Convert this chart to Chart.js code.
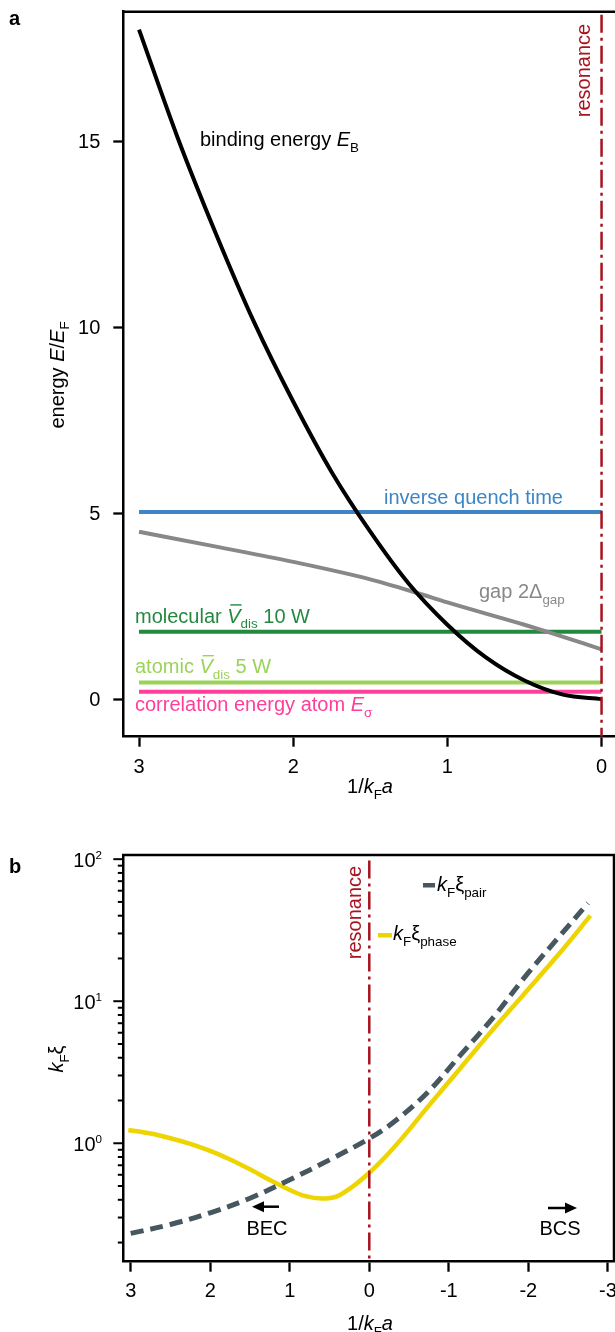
<!DOCTYPE html>
<html>
<head>
<meta charset="utf-8">
<script src="https://cdn.jsdelivr.net/npm/chart.js"></script>
<style>
  html, body { margin: 0; padding: 0; background: #fff; overflow: hidden; }
  #wrap { position: relative; width: 615px; height: 1332px; overflow: hidden; }
  canvas { position: absolute; left: 0; }
  #chartA { top: 0; }
  #chartB { top: 800px; }
</style>
</head>
<body>
<div id="wrap">
  <canvas id="chartA" width="615" height="800" style="width:615px;height:800px"></canvas>
  <canvas id="chartB" width="615" height="540" style="width:615px;height:540px"></canvas>
</div>
<script>
// ---- panel a: energies vs 1/kFa ----
const energyX = [3, 2.75, 2.5, 2.25, 2, 1.75, 1.5, 1.25, 1, 0.75, 0.5, 0.25, 0];
const bindingE = [18.0, 15.1, 12.5, 10.1, 8.0, 6.1, 4.5, 3.1, 2.0, 1.12, 0.5, 0.12, 0];
const gapX = [3, 2.5, 2, 1.5, 1.2, 1, 0.5, 0.35, 0];
const gapE = [4.5, 4.1, 3.69, 3.22, 2.86, 2.6, 2.0, 1.81, 1.34];
const levelNames = ['inverse quench time', 'molecular Vdis 10 W', 'atomic Vdis 5 W', 'correlation energy atom Eσ'];
const levelValues = [5.03, 1.81, 0.45, 0.2];
const levelSpan = [3, 0];
const energyTicks = [0, 5, 10, 15];
const detuningTicksA = [3, 2, 1, 0];

// ---- panel b: coherence lengths ----
const pairX = [3, 2.5, 2, 1.5, 1, 0.5, 0, -0.3, -0.72, -1.14, -1.56, -1.98, -2.4, -2.75];
const pairXi = [0.232, 0.268, 0.324, 0.41, 0.554, 0.764, 1.08, 1.40, 2.24, 4.14, 7.7, 15.4, 29, 49];
const phaseX = [3.03, 2.75, 2.5, 2.25, 2, 1.75, 1.5, 1.25, 1, 0.8, 0.6, 0.4, 0.2, 0, -0.2, -0.45, -0.72, -1.14, -1.56, -1.98, -2.4, -2.78];
const phaseXi = [1.24, 1.17, 1.085, 0.99, 0.883, 0.769, 0.655, 0.551, 0.469, 0.424, 0.408, 0.425, 0.5, 0.62, 0.8, 1.15, 1.76, 3.35, 6.37, 11.8, 22, 40];
const xiTicks = [0.2, 0.3, 0.4, 0.5, 0.6, 0.7, 0.8, 0.9, 1, 2, 3, 4, 5, 6, 7, 8, 9, 10, 20, 30, 40, 50, 60, 70, 80, 90, 100];
const xiMajor = [1, 10, 100];
const xiMajorExp = ['0', '1', '2'];
const detuningTicksB = [3, 2, 1, 0, -1, -2, -3];

const FONT = '"Liberation Sans", Arial, sans-serif';
const SIZE = 20;
const RED = '#a8131f';
const levelColors = ['#3d85c6', '#24893f', '#9bd35a', '#ff3d9a'];

const pts = (xs, ys) => xs.map((x, i) => ({ x, y: ys[i] }));

function drawRich(ctx, parts, x, y, color, align, size) {
  size = size || SIZE;
  const fontOf = p => (p.b ? 'bold ' : '') + (p.i ? 'italic ' : '') +
    (p.sub ? size * 0.67 : p.sup ? size * 0.58 : size) + 'px ' + FONT;
  let total = 0;
  parts.forEach(p => { ctx.font = fontOf(p); p.w = ctx.measureText(p.t).width; total += p.w; });
  let cx = align === 'center' ? x - total / 2 : align === 'right' ? x - total : x;
  ctx.fillStyle = color;
  ctx.strokeStyle = color;
  ctx.textAlign = 'left';
  ctx.textBaseline = 'alphabetic';
  parts.forEach(p => {
    ctx.font = fontOf(p);
    const dy = p.sub ? size * 0.28 : p.sup ? -size * 0.42 : 0;
    ctx.fillText(p.t, cx, y + dy);
    if (p.bar) {
      ctx.lineWidth = 1.4;
      ctx.beginPath();
      ctx.moveTo(cx + 3, y - size * 0.88);
      ctx.lineTo(cx + p.w + 1, y - size * 0.88);
      ctx.stroke();
    }
    cx += p.w;
  });
}

function drawRotated(ctx, parts, x, y, color) {
  ctx.save();
  ctx.translate(x, y);
  ctx.rotate(-Math.PI / 2);
  drawRich(ctx, parts, 0, 0, color, 'center');
  ctx.restore();
}

function hLine(ctx, x1, x2, y, w) {
  ctx.lineWidth = w; ctx.beginPath(); ctx.moveTo(x1, y); ctx.lineTo(x2, y); ctx.stroke();
}
function vLine(ctx, x, y1, y2, w) {
  ctx.lineWidth = w; ctx.beginPath(); ctx.moveTo(x, y1); ctx.lineTo(x, y2); ctx.stroke();
}

function arrow(ctx, x1, x2, y) {
  // x1 tail, x2 head
  const dir = Math.sign(x2 - x1);
  ctx.strokeStyle = '#000'; ctx.fillStyle = '#000';
  hLine(ctx, x1, x2 - dir * 8, y, 2.5);
  ctx.beginPath();
  ctx.moveTo(x2, y);
  ctx.lineTo(x2 - dir * 12, y - 5.5);
  ctx.lineTo(x2 - dir * 12, y + 5.5);
  ctx.closePath();
  ctx.fill();
}

const levelParts = [
  [{ t: 'inverse quench time' }],
  [{ t: 'molecular ' }, { t: 'V', i: 1, bar: 1 }, { t: 'dis', sub: 1 }, { t: ' 10 W' }],
  [{ t: 'atomic ' }, { t: 'V', i: 1, bar: 1 }, { t: 'dis', sub: 1 }, { t: ' 5 W' }],
  [{ t: 'correlation energy atom ' }, { t: 'E', i: 1 }, { t: 'σ', sub: 1 }]
];
const levelLabelPos = [[384, 504], [135, 622.5], [135, 673.3], [135, 711]];
const invKaParts = [{ t: '1/' }, { t: 'k', i: 1 }, { t: 'F', sub: 1 }, { t: 'a', i: 1 }];

const decorA = {
  id: 'decorA',
  afterDraw(chart) {
    const ctx = chart.ctx, a = chart.chartArea, xs = chart.scales.x, ys = chart.scales.y;
    ctx.save();
    ctx.strokeStyle = '#000';
    hLine(ctx, a.left - 1.2, a.right, a.top, 2.5);
    // tick labels
    ctx.fillStyle = '#000'; ctx.font = SIZE + 'px ' + FONT;
    ctx.textAlign = 'right'; ctx.textBaseline = 'middle';
    energyTicks.forEach(v => ctx.fillText(String(v), a.left - 23, ys.getPixelForValue(v) + 1));
    ctx.textAlign = 'center';
    detuningTicksA.forEach(v => ctx.fillText(String(v), xs.getPixelForValue(v), a.bottom + 31));
    // labels
    drawRich(ctx, [{ t: 'binding energy ' }, { t: 'E', i: 1 }, { t: 'B', sub: 1 }], 200, 146, '#000', 'left');
    drawRich(ctx, [{ t: 'gap 2Δ' }, { t: 'gap', sub: 1 }], 479, 598, '#888888', 'left');
    levelParts.forEach((p, i) => drawRich(ctx, p, levelLabelPos[i][0], levelLabelPos[i][1], levelColors[i], 'left'));
    drawRotated(ctx, [{ t: 'resonance' }], 590, 70.5, RED);
    drawRotated(ctx, [{ t: 'energy ' }, { t: 'E', i: 1 }, { t: '/' }, { t: 'E', i: 1 }, { t: 'F', sub: 1 }], 63.5, 375, '#000');
    drawRich(ctx, invKaParts, 370, 793, '#000', 'center');
    drawRich(ctx, [{ t: 'a', b: 1 }], 9, 25, '#000', 'left', 20);
    ctx.restore();
  }
};

const decorB = {
  id: 'decorB',
  afterDraw(chart) {
    const ctx = chart.ctx, a = chart.chartArea, xs = chart.scales.x, ys = chart.scales.y;
    ctx.save();
    ctx.strokeStyle = '#000';
    hLine(ctx, a.left - 1.2, a.right + 1.2, a.top, 2.5);
    vLine(ctx, a.right, a.top, a.bottom, 2.5);
    // log ticks, major longer than minor
    xiTicks.forEach(v => {
      const py = ys.getPixelForValue(v);
      hLine(ctx, a.left - (xiMajor.includes(v) ? 10 : 5.5), a.left, py, 2);
    });
    xiMajor.forEach((v, i) => drawRich(ctx, [{ t: '10' }, { t: xiMajorExp[i], sup: 1 }], 102, ys.getPixelForValue(v) + 8, '#000', 'right'));
    ctx.fillStyle = '#000'; ctx.font = SIZE + 'px ' + FONT;
    ctx.textAlign = 'center'; ctx.textBaseline = 'middle';
    detuningTicksB.forEach(v => ctx.fillText(String(v), xs.getPixelForValue(v), a.bottom + 30));
    drawRich(ctx, invKaParts, 370, 530, '#000', 'center');
    drawRotated(ctx, [{ t: 'k', i: 1 }, { t: 'F', sub: 1 }, { t: 'ξ' }], 63, 259, '#000');
    drawRotated(ctx, [{ t: 'resonance' }], 361, 112.5, RED);
    // legend
    ctx.fillStyle = '#465760'; ctx.fillRect(423, 83, 12, 4.5);
    drawRich(ctx, [{ t: 'k', i: 1 }, { t: 'F', sub: 1 }, { t: 'ξ' }, { t: 'pair', sub: 1 }], 437, 91, '#000', 'left');
    ctx.fillStyle = '#eed400'; ctx.fillRect(378, 133, 14, 4.5);
    drawRich(ctx, [{ t: 'k', i: 1 }, { t: 'F', sub: 1 }, { t: 'ξ' }, { t: 'phase', sub: 1 }], 393, 140, '#000', 'left');
    arrow(ctx, 279, 252, 406.7);
    arrow(ctx, 548, 577, 408);
    drawRich(ctx, [{ t: 'BEC' }], 267, 435, '#000', 'center');
    drawRich(ctx, [{ t: 'BCS' }], 560, 435, '#000', 'center');
    drawRich(ctx, [{ t: 'b', b: 1 }], 9, 73, '#000', 'left', 20);
    ctx.restore();
  }
};

function axisStyle(extra) {
  return Object.assign({
    type: 'linear',
    ticks: { display: false },
    grid: { drawOnChartArea: false, drawTicks: true, tickLength: 10, tickWidth: 2.3, tickColor: '#000' },
    border: { display: true, color: '#000', width: 2.5 }
  }, extra);
}

const common = {
  responsive: false,
  animation: false,
  events: [],
  plugins: { legend: { display: false }, tooltip: { enabled: false } },
  elements: { point: { radius: 0 }, line: { borderCapStyle: 'butt', fill: false } }
};

const levelSets = levelValues.map((v, i) => ({
  label: levelNames[i],
  data: levelSpan.map(x => ({ x, y: v })),
  borderColor: levelColors[i],
  borderWidth: 4
}));

new Chart(document.getElementById('chartA'), {
  type: 'line',
  data: {
    datasets: [
      { label: 'resonance', data: [{ x: 0, y: 18.4 }, { x: 0, y: -1.01 }], borderColor: RED, borderWidth: 2.5, borderDash: [18, 5, 3, 5] },
      { label: 'binding energy', data: pts(energyX, bindingE), borderColor: '#000', borderWidth: 4, cubicInterpolationMode: 'monotone' },
      { label: 'gap', data: pts(gapX, gapE), borderColor: '#888888', borderWidth: 4, cubicInterpolationMode: 'monotone' },
      ...levelSets
    ]
  },
  options: Object.assign({}, common, {
    layout: { padding: { top: 11.7, right: 0, bottom: 13.3, left: 0 } },
    scales: {
      x: axisStyle({
        reverse: true, min: -0.0873, max: 3.102,
        afterBuildTicks: s => { s.ticks = detuningTicksA.map(v => ({ value: v })); },
        afterFit: s => { s.height = 50; }
      }),
      y: axisStyle({
        min: -1.01, max: 18.48,
        afterBuildTicks: s => { s.ticks = energyTicks.map(v => ({ value: v })); },
        afterFit: s => { s.width = 123.3; }
      })
    }
  }),
  plugins: [decorA]
});

new Chart(document.getElementById('chartB'), {
  type: 'line',
  data: {
    datasets: [
      { label: 'resonance', data: [{ x: 0, y: 98 }, { x: 0, y: 0.1466 }], borderColor: RED, borderWidth: 2.5, borderDash: [18, 5, 3, 5] },
      { label: 'pair', data: pts(pairX, pairXi), borderColor: '#465760', borderWidth: 5, borderDash: [13, 7], tension: 0.35 },
      { label: 'phase', data: pts(phaseX, phaseXi), borderColor: '#eed400', borderWidth: 4.5, tension: 0.3 }
    ]
  },
  options: Object.assign({}, common, {
    layout: { padding: { top: 55, right: 1, bottom: 28.3, left: 0 } },
    scales: {
      x: axisStyle({
        reverse: true, min: -3.077, max: 3.093,
        afterBuildTicks: s => { s.ticks = detuningTicksB.map(v => ({ value: v })); },
        afterFit: s => { s.height = 50; }
      }),
      y: axisStyle({
        type: 'logarithmic', min: 0.1466, max: 107,
        grid: { display: false },
        afterBuildTicks: s => { s.ticks = xiTicks.map(v => ({ value: v })); },
        afterFit: s => { s.width = 123.3; }
      })
    }
  }),
  plugins: [decorB]
});
</script>
</body>
</html>
